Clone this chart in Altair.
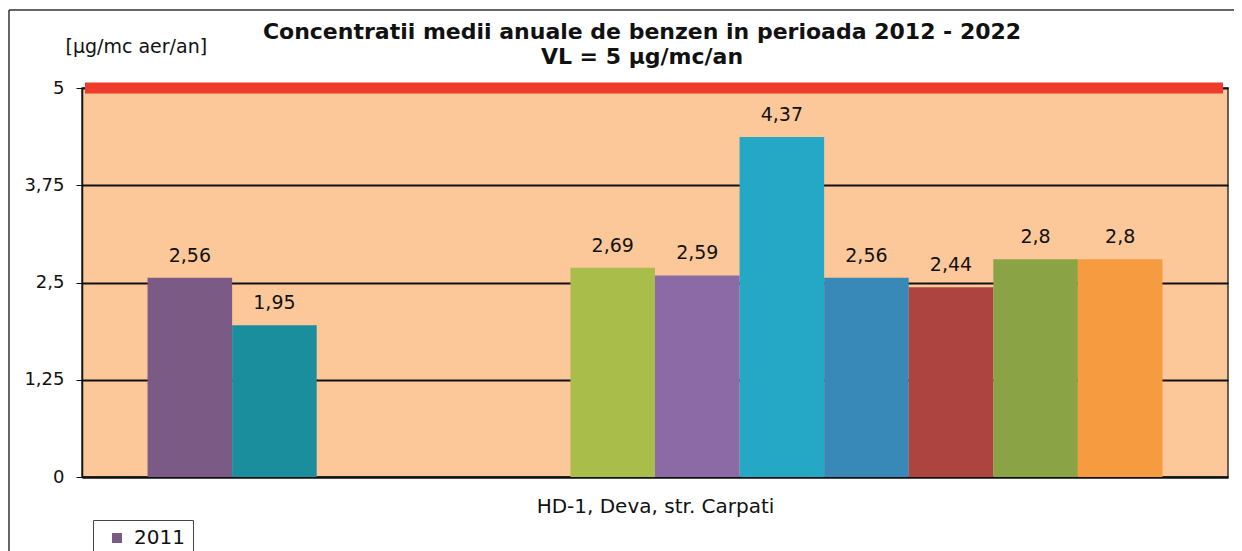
import altair as alt
import pandas as pd

years = ["2011", "2012", "2013", "2014", "2015", "2016", "2017", "2018", "2019", "2020", "2021", "2022"]
values = [2.56, 1.95, None, None, None, 2.69, 2.59, 4.37, 2.56, 2.44, 2.8, 2.8]
colors = ["#7B5A86", "#1B8E9E", "#999999", "#999999", "#999999", "#A8BD4A",
          "#8C6AA6", "#25A7C6", "#3889B8", "#AE4440", "#8AA345", "#F79B40"]
station = "HD-1, Deva, str. Carpati"
y_ticks = [0, 1.25, 2.5, 3.75, 5]
limit_value = 5

rows = [{"year": y, "value": v, "label": str(v).replace(".", ",")}
        for y, v in zip(years, values) if v is not None]
df = pd.DataFrame(rows)

W, H = 1146, 389
FONT = "DejaVu Sans"

x_scale = alt.Scale(domain=years, paddingInner=0, paddingOuter=0.775)

x_enc = alt.X("year:N", scale=x_scale,
              axis=alt.Axis(labels=False, ticks=False, title=station, titleFontSize=20,
                            titleFont=FONT, titleFontWeight="normal",
                            titleColor="#111", titlePadding=19, domainColor="#111",
                            domainWidth=2, grid=False))
y_enc = alt.Y("value:Q", scale=alt.Scale(domain=[0, 5], nice=False),
              axis=alt.Axis(values=y_ticks, title="[µg/mc aer/an]", titleAngle=0,
                            titleAlign="left", titleBaseline="alphabetic",
                            titleX=-17, titleY=-36, titleFontSize=19,
                            titleFont=FONT, titleFontWeight="normal",
                            titleColor="#111",
                            labelExpr="replace(toString(datum.value), '.', ',')",
                            labelFontSize=18, labelFont=FONT, labelColor="#111",
                            labelPadding=12, tickSize=6, tickColor="#111",
                            domainColor="#111", domainWidth=1.5,
                            grid=True, gridColor="#111", gridWidth=2))

base = alt.Chart(df)

bars = base.mark_bar(opacity=1).encode(
    x=x_enc,
    y=y_enc,
    color=alt.Color("year:N", scale=alt.Scale(domain=years, range=colors),
                    legend=alt.Legend(values=["2011"], title=None, orient="none",
                                      legendX=11, legendY=432, symbolType="square",
                                      symbolSize=100, symbolOffset=6, labelOffset=7,
                                      labelFontSize=20,
                                      labelFont=FONT, labelColor="#111",
                                      strokeColor="#444", fillColor="white",
                                      padding=8, symbolOpacity=1)),
)

labels = base.mark_text(baseline="alphabetic", dy=-16, fontSize=19,
                        font=FONT, color="#111").encode(
    x=alt.X("year:N", scale=x_scale),
    y="value:Q",
    text="label:N",
)

limit = alt.Chart(pd.DataFrame({"vl": [limit_value]})).mark_rule(
    color="#EE3B2C", strokeWidth=11).encode(
    y=alt.Y("vl:Q"),
    x=alt.value(3), x2=alt.value(W - 5),
)

frame_top = alt.Chart(pd.DataFrame({"f": [0]})).mark_rule(color="#333", strokeWidth=1.5).encode(
    x=alt.value(-73), x2=alt.value(W + 20), y=alt.value(-78))
frame_left = alt.Chart(pd.DataFrame({"f": [0]})).mark_rule(color="#333", strokeWidth=1.5).encode(
    x=alt.value(-73), y=alt.value(-78), y2=alt.value(H + 90))

chart = alt.layer(bars, labels, limit, frame_top, frame_left).properties(
    width=W, height=H,
    autosize=alt.AutoSizeParams(type="none"),
    padding={"left": 74, "top": 80, "right": 6, "bottom": 74},
    title=alt.TitleParams(
        text=["Concentratii medii anuale de benzen in perioada 2012 - 2022", "VL = 5 µg/mc/an"],
        font=FONT, fontSize=22, fontWeight="bold", color="#111",
        anchor="middle", dx=-13, dy=60, offset=0, lineHeight=25),
).configure(background="white").configure_view(fill="#FCC89A", stroke="#333", strokeWidth=1.5)

chart.save("out.html", embed_options={"renderer": "svg", "actions": False})
